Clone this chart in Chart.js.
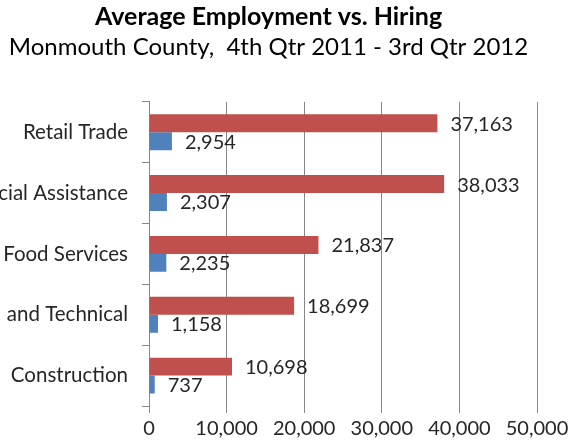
<!DOCTYPE html>
<html>
<head>
<meta charset="utf-8">
<script src="https://cdn.jsdelivr.net/npm/chart.js@4/dist/chart.umd.min.js"></script>
<style>
  html, body { margin: 0; padding: 0; background: #fff; }
  #wrap { width: 570px; height: 446px; }
</style>
</head>
<body>
<div id="wrap"><canvas id="chart"></canvas></div>
<script>
// industries, top to bottom (labels are cut off on the left in the original)
const industries = ['Retail Trade', 'cial Assistance', 'Food Services', 'and Technical', 'Construction'];
const employment = [37163, 38033, 21837, 18699, 10698];
const hiring = [2954, 2307, 2235, 1158, 737];
const xTicks = [0, 10000, 20000, 30000, 40000, 50000];

const fontName = 'Lato, "Open Sans", sans-serif';
const gridGray = '#878787';

// value labels at the end of each bar
const barLabels = {
    id: 'barLabels',
    afterDatasetsDraw(chart) {
        const ctx = chart.ctx;
        ctx.save();
        ctx.font = '20px ' + fontName;
        ctx.fillStyle = '#262626';
        ctx.textAlign = 'left';
        ctx.textBaseline = 'middle';
        chart.data.datasets.forEach((ds, i) => {
            chart.getDatasetMeta(i).data.forEach((bar, j) => {
                ctx.fillText(ds.data[j].toLocaleString('en-US'), bar.x + 13, bar.y + 1);
            });
        });
        ctx.restore();
    }
};

new Chart(document.getElementById('chart'), {
    type: 'bar',
    data: {
        labels: industries,
        datasets: [{
            label: 'Average Employment',
            data: employment,
            backgroundColor: '#C0504D',
            borderWidth: 0,
            barPercentage: 1,
            categoryPercentage: 0.59
        }, {
            label: 'Hiring',
            data: hiring,
            backgroundColor: '#4F81BD',
            borderWidth: 0,
            barPercentage: 1,
            categoryPercentage: 0.59
        }]
    },
    options: {
        indexAxis: 'y',
        responsive: true,
        maintainAspectRatio: false,
        animation: false,
        layout: { padding: { top: 0, right: 33, bottom: 0, left: 0 } },
        plugins: {
            legend: { display: false },
            tooltip: { enabled: false },
            title: {
                display: true,
                text: 'Average Employment vs. Hiring',
                color: '#000',
                font: { family: fontName, size: 25, weight: 'bold' },
                padding: { top: 2, bottom: 1 }
            },
            subtitle: {
                display: true,
                text: 'Monmouth County,  4th Qtr 2011 - 3rd Qtr 2012',
                color: '#000',
                font: { family: fontName, size: 24 },
                padding: { top: 0, bottom: 40 }
            }
        },
        scales: {
            x: {
                min: 0,
                max: 50000,
                afterBuildTicks(scale) {
                    scale.ticks = xTicks.map(v => ({ value: v }));
                },
                afterFit(scale) {
                    scale.height = 40;
                    scale.paddingRight = 0;
                    scale.paddingLeft = 0;
                },
                border: { display: false },
                grid: { color: gridGray, tickLength: 7, tickColor: gridGray },
                ticks: {
                    color: '#262626',
                    padding: 4,
                    maxRotation: 0,
                    font: { family: fontName, size: 20 },
                    callback: v => v.toLocaleString('en-US')
                }
            },
            y: {
                afterFit(scale) { scale.width = 149; },
                border: { display: true, color: gridGray },
                grid: { drawOnChartArea: false, tickLength: 7, color: gridGray },
                ticks: {
                    color: '#262626',
                    padding: 14,
                    font: { family: fontName, size: 20.5 }
                }
            }
        }
    },
    plugins: [barLabels]
});
</script>
</body>
</html>
